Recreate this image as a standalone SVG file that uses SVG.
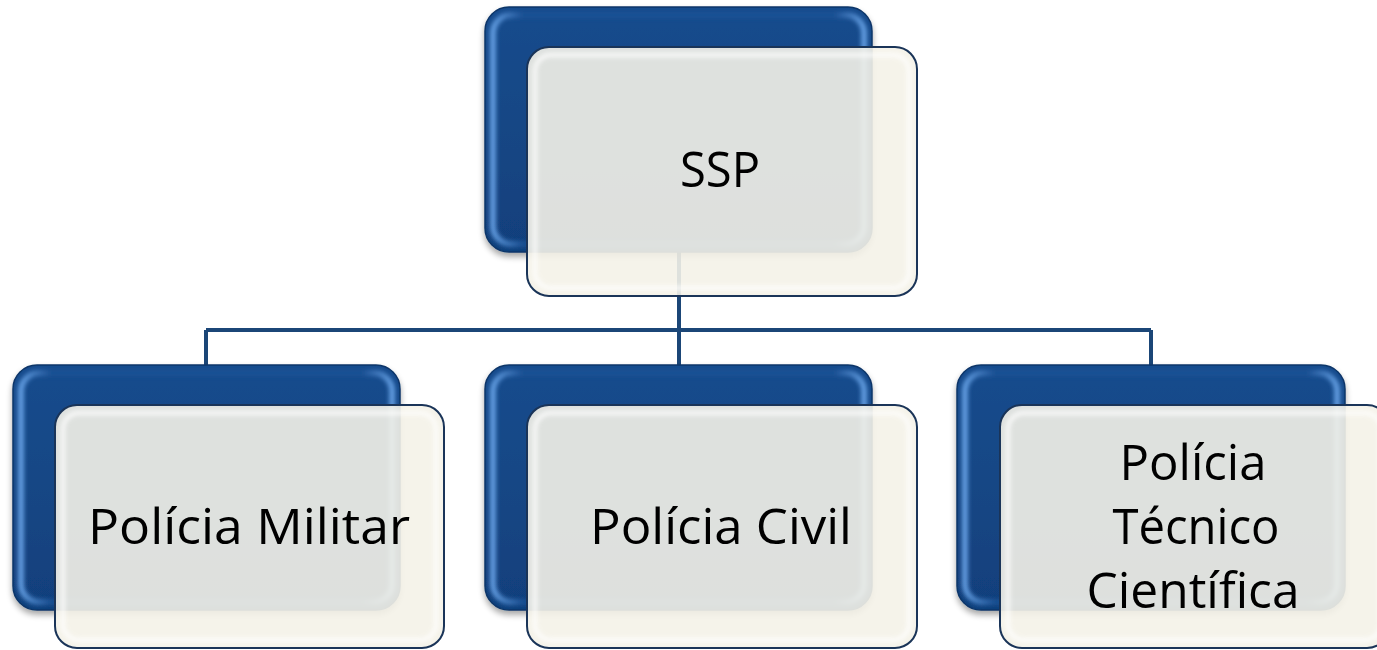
<svg xmlns="http://www.w3.org/2000/svg" width="1377" height="650" viewBox="0 0 1377 650">
<defs>
  <linearGradient id="blueG" x1="0" y1="0" x2="0" y2="1">
    <stop offset="0" stop-color="#184c8d"/>
    <stop offset="1" stop-color="#11407c"/>
  </linearGradient>
  <linearGradient id="blueEdge" x1="0" y1="0" x2="1" y2="0">
    <stop offset="0" stop-color="#6aa6ea"/>
    <stop offset="0.08" stop-color="#1d5296"/>
    <stop offset="0.92" stop-color="#1d5296"/>
    <stop offset="1" stop-color="#6aa6ea"/>
  </linearGradient>
  <filter id="shadow" x="-10%" y="-10%" width="120%" height="125%">
    <feGaussianBlur in="SourceAlpha" stdDeviation="3"/>
    <feOffset dx="0" dy="4"/>
    <feComponentTransfer><feFuncA type="linear" slope="0.35"/></feComponentTransfer>
    <feMerge><feMergeNode/><feMergeNode in="SourceGraphic"/></feMerge>
  </filter>
  <filter id="soft" x="-5%" y="-5%" width="110%" height="110%">
    <feGaussianBlur stdDeviation="2"/>
  </filter>
</defs>
<style>
  .bOuter{fill:url(#blueG);stroke:#0d3669;stroke-width:1.5}
  .bEdge{fill:none;stroke:url(#blueEdge);stroke-width:6;opacity:0.9}
  .cOuter{fill:#f4f2e8;fill-opacity:0.9;stroke:#1a3458;stroke-width:2}
  .cEdge{fill:none;stroke:#ffffff;stroke-width:5;opacity:0.7}
  .conn{fill:none;stroke:#1b4677;stroke-width:4}
  .lbl{font-family:"Open Sans","Liberation Sans",sans-serif;font-size:50px;fill:#000000;text-anchor:middle}
</style>

<g id="connectors">
  <path class="conn" d="M679 252 V365 M206 330 H1151 M206 330 V365 M1151 330 V365"/>
</g>

<g id="node-ssp">
  <g filter="url(#shadow)">
    <rect class="bOuter" x="485" y="7" width="387" height="245" rx="24"/>
  </g>
  <rect class="bEdge" x="493" y="15" width="371" height="229" rx="18" filter="url(#soft)"/>
  <rect class="cOuter" x="527" y="47" width="390" height="249" rx="22"/>
  <rect class="cEdge" x="535" y="55" width="374" height="233" rx="16" filter="url(#soft)"/>
  <text class="lbl" x="720" y="187" textLength="80" lengthAdjust="spacingAndGlyphs">SSP</text>
</g>

<g id="node-pm">
  <g filter="url(#shadow)">
    <rect class="bOuter" x="13" y="365" width="387" height="245" rx="24"/>
  </g>
  <rect class="bEdge" x="21" y="373" width="371" height="229" rx="18" filter="url(#soft)"/>
  <rect class="cOuter" x="55" y="405" width="389" height="243" rx="22"/>
  <rect class="cEdge" x="63" y="413" width="373" height="227" rx="16" filter="url(#soft)"/>
  <text class="lbl" x="249" y="544" textLength="322" lengthAdjust="spacingAndGlyphs">Polícia Militar</text>
</g>

<g id="node-pc">
  <g filter="url(#shadow)">
    <rect class="bOuter" x="485" y="365" width="387" height="245" rx="24"/>
  </g>
  <rect class="bEdge" x="493" y="373" width="371" height="229" rx="18" filter="url(#soft)"/>
  <rect class="cOuter" x="527" y="405" width="390" height="243" rx="22"/>
  <rect class="cEdge" x="535" y="413" width="374" height="227" rx="16" filter="url(#soft)"/>
  <text class="lbl" x="721" y="544" textLength="262" lengthAdjust="spacingAndGlyphs">Polícia Civil</text>
</g>

<g id="node-ptc">
  <g filter="url(#shadow)">
    <rect class="bOuter" x="957" y="365" width="388" height="245" rx="24"/>
  </g>
  <rect class="bEdge" x="965" y="373" width="372" height="229" rx="18" filter="url(#soft)"/>
  <rect class="cOuter" x="1000" y="405" width="389" height="243" rx="22"/>
  <rect class="cEdge" x="1008" y="413" width="373" height="227" rx="16" filter="url(#soft)"/>
  <text class="lbl" x="1193" y="480" textLength="147" lengthAdjust="spacingAndGlyphs">Polícia</text>
  <text class="lbl" x="1196" y="544" textLength="167" lengthAdjust="spacingAndGlyphs">Técnico</text>
  <text class="lbl" x="1193" y="608" textLength="213" lengthAdjust="spacingAndGlyphs">Científica</text>
</g>
</svg>
